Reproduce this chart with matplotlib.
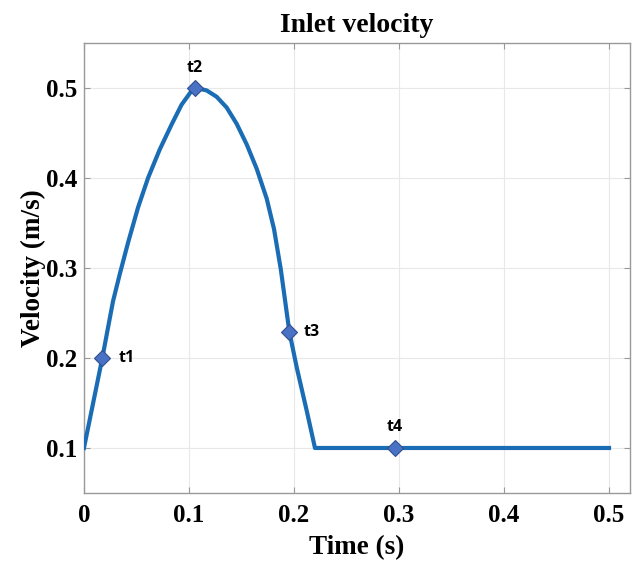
import matplotlib.pyplot as plt
import numpy as np

# inlet velocity curve
time_s = [0.0, 0.0175, 0.0229, 0.0277, 0.0341, 0.042, 0.0515, 0.0611, 0.0722,
          0.0834, 0.0929, 0.1009, 0.1056, 0.1168, 0.1263, 0.1359, 0.1454, 0.155,
          0.1645, 0.174, 0.181, 0.1875, 0.1956, 0.2027, 0.2122, 0.220, 0.5]
velocity = [0.1, 0.2, 0.2335, 0.263, 0.293, 0.328, 0.367, 0.400, 0.4315,
            0.459, 0.481, 0.494, 0.5, 0.497, 0.490, 0.478, 0.460, 0.437,
            0.410, 0.377, 0.343, 0.298, 0.229, 0.189, 0.141, 0.1, 0.1]

# marked instants
mark_labels = ["t1", "t2", "t3", "t4"]
mark_t = [0.0175, 0.1056, 0.1956, 0.296]
mark_v = [0.2, 0.5, 0.229, 0.1]

xticks = [0, 0.1, 0.2, 0.3, 0.4, 0.5]
xtick_labels = ["0", "0.1", "0.2", "0.3", "0.4", "0.5"]
yticks = [0.1, 0.2, 0.3, 0.4, 0.5]

serif = ["Liberation Serif", "DejaVu Serif"]

fig = plt.figure(figsize=(6.36, 5.63), dpi=100)
ax = fig.add_axes([0.132, 0.1243, 0.8586, 0.7999])

ax.plot(time_s, velocity, color="#1a6db5", lw=3.0, zorder=3,
        solid_joinstyle="round")
ax.plot(mark_t, mark_v, ls="none", marker="D", ms=8, mfc="#4a72c4",
        mec="#2f4f8f", mew=0.8, zorder=4)

# label offsets in points: right of marker for t1/t3, above for t2/t4
offsets = {"t1": (11.5, 0), "t2": (0, 14), "t3": (10, 0), "t4": (0, 15)}
for lab, t, v in zip(mark_labels, mark_t, mark_v):
    dx, dy = offsets[lab]
    ax.annotate(lab, (t, v), xytext=(dx, dy), textcoords="offset points",
                ha="left" if dx else "center", va="center",
                fontsize=11.5, fontweight="bold", family=["Open Sans", "DejaVu Sans"])

ax.set_xlim(0, 0.52)
ax.set_ylim(0.05, 0.55)
ax.set_xticks(xticks)
ax.set_xticklabels(xtick_labels)
ax.set_yticks(yticks)
ax.grid(True, color="#e8e8e8", lw=0.8)
ax.set_axisbelow(True)
ax.tick_params(direction="in", top=True, right=True, length=4, color="#999999",
               labelsize=18)
ax.tick_params(axis="x", pad=8)
ax.tick_params(axis="y", pad=5)
for lbl in ax.get_xticklabels() + ax.get_yticklabels():
    lbl.set_family(serif)
    lbl.set_fontweight("bold")
for sp in ax.spines.values():
    sp.set_color("#999999")
    sp.set_linewidth(1.0)

ax.set_title("Inlet velocity", family=serif, fontweight="bold", fontsize=20, pad=8)
ax.set_xlabel("Time (s)", family=serif, fontweight="bold", fontsize=19.5, labelpad=6)
ax.set_ylabel("Velocity (m/s)", family=serif, fontweight="bold", fontsize=19.5, labelpad=0)

plt.savefig("out.png", dpi=100)
